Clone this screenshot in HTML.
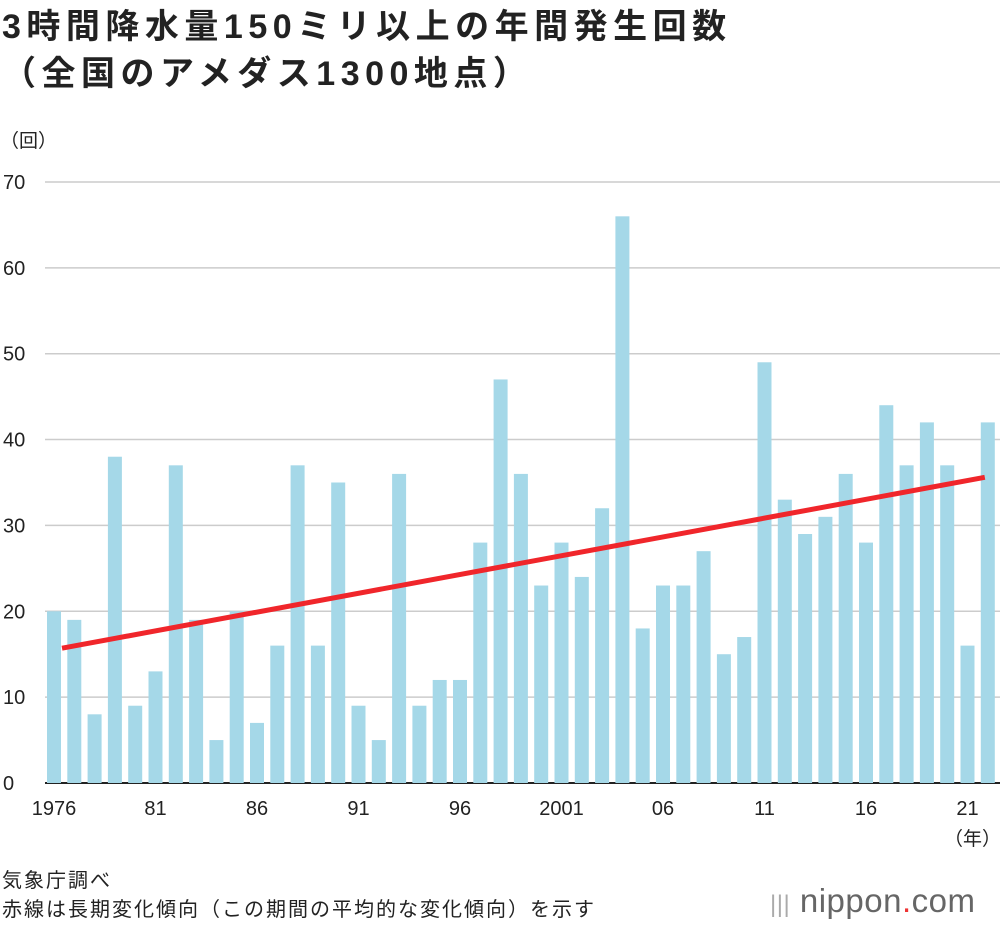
<!DOCTYPE html>
<html><head><meta charset="utf-8">
<style>
body{margin:0;background:#fff;width:1000px;height:926px;overflow:hidden;font-family:"Liberation Sans","Noto Sans CJK JP",sans-serif;}
.t{position:absolute;color:#222;}
</style></head><body>
<div class="t" style="left:2px;top:4px;font-size:34px;font-weight:bold;line-height:47px;letter-spacing:5.5px">3時間降水量150ミリ以上の年間発生回数<br>（全国のアメダス1300地点）</div>
<div class="t" style="left:0px;top:126px;font-size:19px">（回）</div>
<svg id="c" width="1000" height="926" style="position:absolute;left:0;top:0"></svg>
<div class="t" style="left:944px;top:824px;font-size:19px">（年）</div>
<div class="t" style="left:2px;top:867px;font-size:20px;line-height:29px;letter-spacing:2px">気象庁調べ<br>赤線は長期変化傾向（この期間の平均的な変化傾向）を示す</div>
<div class="t" style="left:770px;top:882px;font-size:33px;color:#666;letter-spacing:0.5px"><span style="color:#aaa;font-size:24px">|||</span> nippon<span style="color:#e33">.</span>com</div>
<script>
const years=[1976,1977,1978,1979,1980,1981,1982,1983,1984,1985,1986,1987,1988,1989,1990,1991,1992,1993,1994,1995,1996,1997,1998,1999,2000,2001,2002,2003,2004,2005,2006,2007,2008,2009,2010,2011,2012,2013,2014,2015,2016,2017,2018,2019,2020,2021,2022];
const counts=[20,19,8,38,9,13,37,19,5,20,7,16,37,16,35,9,5,36,9,12,12,28,47,36,23,28,24,32,66,18,23,23,27,15,17,49,33,29,31,36,28,44,37,42,37,16,42];
const yTicks=[0,10,20,30,40,50,60,70];
const xTickLabels={1976:"1976",1981:"81",1986:"86",1991:"91",1996:"96",2001:"2001",2006:"06",2011:"11",2016:"16",2021:"21"};
const trendStart=15.7, trendEnd=35.6;
const NS="http://www.w3.org/2000/svg",svg=document.getElementById('c');
const x=i=>54+i*20.3, y=v=>783-v*8.586;
function mk(t,a){const e=document.createElementNS(NS,t);for(const k in a)e.setAttribute(k,a[k]);svg.appendChild(e);return e;}
yTicks.forEach(v=>{
 const l=mk('line',{x1:45,x2:1000,y1:y(v),y2:y(v),stroke:v?'#ccc':'#222','stroke-width':v?1.5:2});
 
 
 const t=mk('text',{x:3,y:y(v)+7,'font-size':20,fill:'#222'});t.textContent=v;
 
 
});
counts.forEach((v,i)=>{
 const r=mk('rect',{x:x(i)-7,y:y(v),width:14,height:y(0)-y(v),fill:'#a5d8e8'});
 
 
 const lab=xTickLabels[years[i]];
 if(lab){const t=mk('text',{x:x(i),y:815,'font-size':20,fill:'#222','text-anchor':'middle'});t.textContent=lab;
 
 }
});
const tl=mk('line',{x1:x(0)+8,y1:y(trendStart),x2:x(counts.length-1)-3,y2:y(trendEnd),stroke:'#f0262b','stroke-width':5});


</script>
</body></html>
